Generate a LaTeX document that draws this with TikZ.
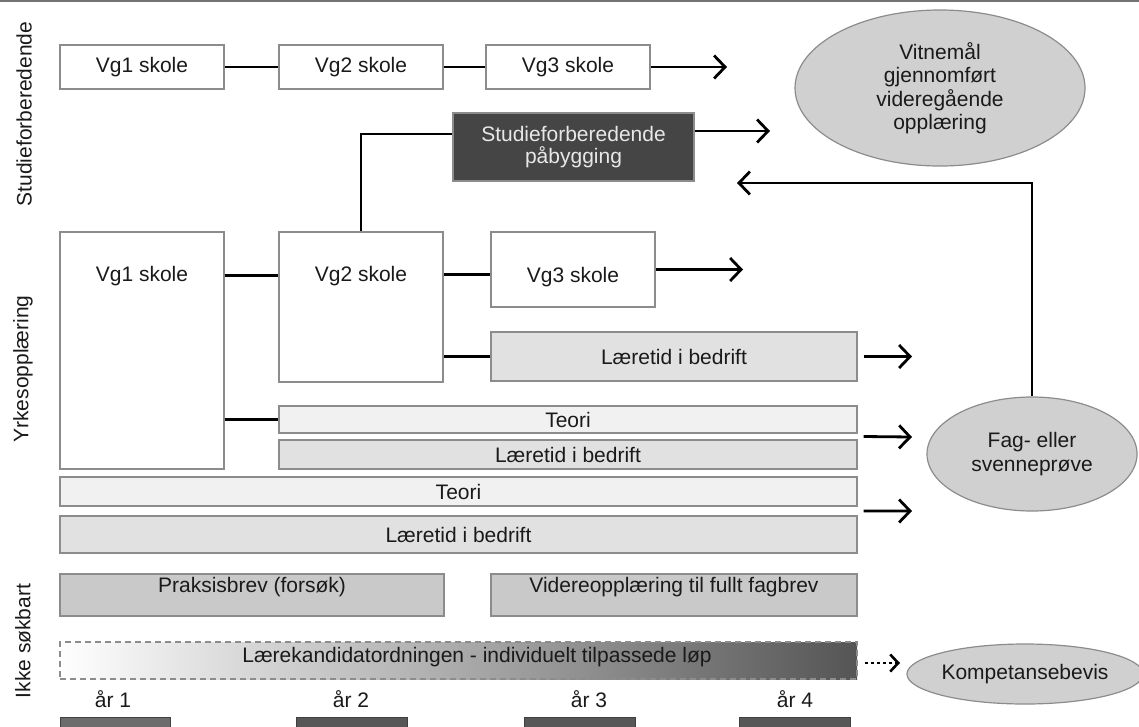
\documentclass[tikz,border=0pt]{standalone}
\usepackage{fontspec}
\setmainfont{Liberation Sans}
\usetikzlibrary{arrows.meta,shapes.geometric,calc}

\definecolor{edge}{HTML}{8C8C8C}
\definecolor{ink}{HTML}{1A1A1A}
\definecolor{paleA}{HTML}{F0F1F0}
\definecolor{paleB}{HTML}{E1E1E1}
\definecolor{midfill}{HTML}{C9C9C9}
\definecolor{ovalfill}{HTML}{D0D0D0}
\definecolor{darkfill}{HTML}{454545}
\definecolor{darktext}{HTML}{E8E8E8}
\definecolor{yearfill}{HTML}{575757}
\definecolor{yearfillA}{HTML}{6C6C6C}
\definecolor{gradend}{HTML}{555555}

\newcommand{\fs}{\fontsize{21}{23.5}\selectfont}

\tikzset{
  box/.style={draw=edge, line width=1.2pt, rectangle, inner sep=0pt,
    font=\fs, text=ink, align=center},
  whitebox/.style={box, fill=white},
  teoribox/.style={box, fill=paleA},
  larebox/.style={box, fill=paleB},
  greybox/.style={box, fill=midfill},
  darkbox/.style={box, fill=darkfill, text=darktext},
  oval/.style={ellipse, draw=edge, line width=1.2pt, fill=ovalfill,
    inner sep=0pt, font=\fs, text=ink, align=center},
  toplabel/.style={font=\fs, text=ink, anchor=center},
  sidelabel/.style={font=\fs, text=ink, rotate=90, anchor=center},
  yearlabel/.style={font=\fs, text=ink, anchor=center},
  yearbox/.style={draw=black!75, line width=1pt, fill=yearfill, inner sep=0pt},
  link/.style={line width=2.8pt, black},
  flow/.style={line width=2.8pt, black,
    -{Straight Barb[length=11pt,width=23pt,line width=2.8pt]}},
  dotflow/.style={line width=2.8pt, black, dash pattern=on 3.5pt off 2.5pt,
    -{Straight Barb[length=8pt,width=17pt,line width=2.6pt]}},
}

\begin{document}
\begin{tikzpicture}[x=1pt,y=-1pt]
  \useasboundingbox (0,0) rectangle (1139,726);
  \clip (0,0) rectangle (1139,726);

  % thin rule along the top edge
  \draw[black!55, line width=1.6pt] (0,0.8) -- (1139,0.8);

  % side headings
  \node[sidelabel] (hStudie) at (24,114) {Studieforberedende};
  \node[sidelabel] (hYrke) at (23,369) {Yrkesopplæring};
  \node[sidelabel] (hIkke) at (23,641) {Ikke søkbart};

  % ---- studieforberedende row
  \node[whitebox, minimum width=164pt, minimum height=44pt] (s1) at (142,67) {Vg1 skole};
  \node[whitebox, minimum width=164pt, minimum height=44pt] (s2) at (361,67) {Vg2 skole};
  \node[whitebox, minimum width=164pt, minimum height=44pt] (s3) at (568,67) {Vg3 skole};
  \node[darkbox, minimum width=241pt, minimum height=68pt] (pab) at (573.5,147)
    {Studieforberedende\\[-1pt]påbygging};

  \node[oval, minimum width=290pt, minimum height=156pt] (vit) at (940,88)
    {Vitnemål\\gjennomført\\videregående\\opplæring};

  % ---- yrkesopplæring
  \node[whitebox, minimum width=164pt, minimum height=237pt,
    label={[toplabel, yshift=-45pt]north:Vg1 skole}] (y1) at (142,350.5) {};
  \node[whitebox, minimum width=164pt, minimum height=150pt,
    label={[toplabel, yshift=-45pt]north:Vg2 skole}] (y2) at (361,307) {};
  \node[whitebox, minimum width=164pt, minimum height=75pt,
    label={[toplabel, yshift=-46pt]north:Vg3 skole}] (y3) at (573,269.5) {};
  \node[larebox, minimum width=366pt, minimum height=49pt] (l1) at (674,356.5) {Læretid i bedrift};
  \node[teoribox, minimum width=578pt, minimum height=27pt] (t2) at (568,419.5) {Teori};
  \node[larebox, minimum width=578pt, minimum height=29pt] (l2) at (568,454.5) {Læretid i bedrift};
  \node[teoribox, minimum width=797pt, minimum height=29pt] (t3) at (458.5,491.5) {Teori};
  \node[larebox, minimum width=797pt, minimum height=37pt] (l3) at (458.5,534.5) {Læretid i bedrift};

  \node[oval, minimum width=210pt, minimum height=114pt] (fag) at (1032,454)
    {Fag- eller\\svenneprøve};

  % ---- ikke søkbart
  \node[greybox, minimum width=384pt, minimum height=42pt,
    label={[toplabel, yshift=-14pt]north:Praksisbrev (forsøk)}] (pb) at (252,595) {};
  \node[greybox, minimum width=366pt, minimum height=42pt,
    label={[toplabel, yshift=-14pt]north:Videreopplæring til fullt fagbrev}] (vf) at (674,595) {};

  \node[draw=black!45, line width=1.2pt, dash pattern=on 6pt off 4pt,
    left color=white, right color=gradend, shading angle=90,
    minimum width=797pt, minimum height=37pt, inner sep=0pt] (lk) at (458.5,660.5) {};
  \node[font=\fs, text=ink] (lktext) at (477,657) {Lærekandidatordningen - individuelt tilpassede løp};

  \node[oval, minimum width=226pt, minimum height=60pt] (kb) at (1025,674) {Kompetansebevis};

  % ---- year markers
  \node[yearlabel] (aar1) at (113,699) {år 1};
  \node[yearlabel] (aar2) at (351,699) {år 2};
  \node[yearlabel] (aar3) at (589,699) {år 3};
  \node[yearlabel] (aar4) at (795,699) {år 4};
  \node[yearbox, fill=yearfillA, minimum width=110pt, minimum height=20pt] (yb1) at (115,727) {};
  \node[yearbox, minimum width=111pt, minimum height=20pt] (yb2) at (351.5,727) {};
  \node[yearbox, minimum width=111pt, minimum height=20pt] (yb3) at (580,727) {};
  \node[yearbox, minimum width=111pt, minimum height=20pt] (yb4) at (794.5,727) {};

  % ---- free arrow ends
  \coordinate (endS3) at (727,67);
  \coordinate (endPab) at (770,131);
  \coordinate (endRet) at (737,183);
  \coordinate (endY3) at (743,269.5);
  \coordinate (endL1) at (912,356.5);
  \coordinate (endTL2) at (912,437);
  \coordinate (endTL3) at (912,511);
  \coordinate (endLK) at (900,663);

  % ---- connectors
  \draw[link] (s1) -- (s2);
  \draw[link] (s2) -- (s3);
  \draw[flow] (s3.east) -- (endS3);

  \draw[link] (y2.north) |- ([yshift=13pt]pab.west);
  \draw[flow] ([yshift=16pt]pab.east) -- (endPab);
  \draw[flow] (fag.north) |- (endRet);

  \draw[link] ([yshift=-44pt]y1.north east) -- ([yshift=-44pt]y2.north west);
  \draw[link] ([yshift=-43pt]y2.north east) -- ([yshift=-43pt]y3.north west);
  \draw[flow] (y3.east) -- (endY3);
  \draw[link] (y2.east |- l1.west) -- (l1.west);
  \draw[flow] ([xshift=6pt]l1.east) -- (endL1);
  \draw[link] (y1.east |- t2.west) -- (t2.west);
  \draw[flow] ([xshift=6pt]$(t2.south east)!0.5!(l2.north east)$) -- (endTL2);
  \draw[flow] ([xshift=6pt]$(t3.south east)!0.5!(l3.north east)$) -- (endTL3);

  \draw[dotflow] (lk.east |- endLK) ++(7,0) -- (endLK);
\end{tikzpicture}
\end{document}
